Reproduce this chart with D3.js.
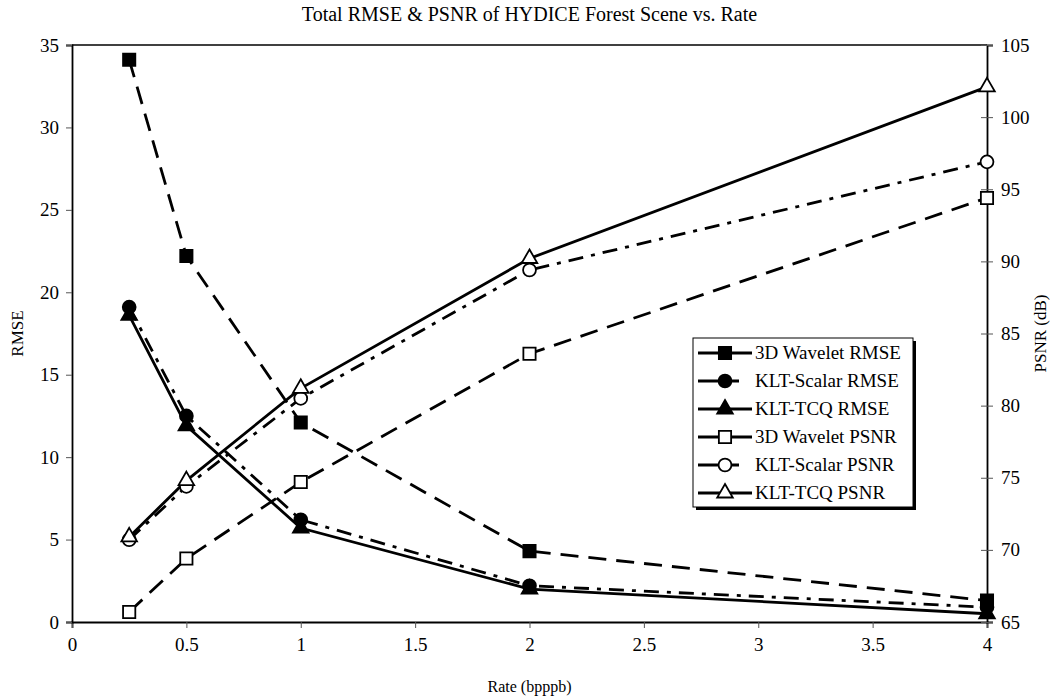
<!DOCTYPE html>
<meta charset="UTF-8">
<style>
    body { margin: 0; background: #fff; }
    text { font-family: "Liberation Serif", "Times New Roman", serif; fill: #000; }
</style>
<body>
<div id="chart"></div>
<script src="https://d3js.org/d3.v7.min.js"></script>
<script>

// data
var rates = [0.25, 0.5, 1, 2, 4];
var wavRmse    = [34.1, 22.2, 12.1, 4.3, 1.3];
var scalarRmse = [19.1, 12.5, 6.2, 2.2, 0.9];
var tcqRmse    = [18.6, 11.9, 5.7, 2.0, 0.5];
var wavPsnr    = [65.7, 69.4, 74.7, 83.6, 94.4];
var scalarPsnr = [70.7, 74.4, 80.5, 89.4, 96.9];
var tcqPsnr    = [70.9, 74.8, 81.2, 90.2, 102.1];

var xTicks = [0, 0.5, 1, 1.5, 2, 2.5, 3, 3.5, 4];
var rmseTicks = [0, 5, 10, 15, 20, 25, 30, 35];
var psnrTicks = [65, 70, 75, 80, 85, 90, 95, 100, 105];

var seriesNames = ["3D Wavelet RMSE", "KLT-Scalar RMSE", "KLT-TCQ RMSE",
                   "3D Wavelet PSNR", "KLT-Scalar PSNR", "KLT-TCQ PSNR"];

// set the dimensions and margins of the graph
var W = 1058, H = 698;
var margin = {top: 45, right: 71, bottom: 76, left: 72};
var width = W - margin.left - margin.right,
    height = H - margin.top - margin.bottom;

var x = d3.scaleLinear().domain([0, 4]).range([0, width]);
var yL = d3.scaleLinear().domain([0, 35]).range([height, 0]);
var yR = d3.scaleLinear().domain([65, 105]).range([height, 0]);

var dashes = { wav: "18,10", scalar: "15,8,4,8", tcq: null };

var series = [
    {name: seriesNames[0], vals: wavRmse,    y: yL, dash: dashes.wav,    shape: "square",   fill: "#000"},
    {name: seriesNames[1], vals: scalarRmse, y: yL, dash: dashes.scalar, shape: "circle",   fill: "#000"},
    {name: seriesNames[2], vals: tcqRmse,    y: yL, dash: dashes.tcq,    shape: "triangle", fill: "#000"},
    {name: seriesNames[3], vals: wavPsnr,    y: yR, dash: dashes.wav,    shape: "square",   fill: "#fff"},
    {name: seriesNames[4], vals: scalarPsnr, y: yR, dash: dashes.scalar, shape: "circle",   fill: "#fff"},
    {name: seriesNames[5], vals: tcqPsnr,    y: yR, dash: dashes.tcq,    shape: "triangle", fill: "#fff"}
];

var svg = d3.select("#chart").append("svg")
    .attr("width", W)
    .attr("height", H);

var g = svg.append("g")
    .attr("transform", "translate(" + margin.left + "," + margin.top + ")");

// title
svg.append("text")
    .attr("x", margin.left + width / 2)
    .attr("y", 21)
    .attr("text-anchor", "middle")
    .style("font-size", "20px")
    .text("Total RMSE & PSNR of HYDICE Forest Scene vs. Rate");

// top frame line
g.append("line")
    .attr("x1", 0).attr("x2", width)
    .attr("y1", 0).attr("y2", 0)
    .attr("stroke", "#000").attr("stroke-width", 1.5);

// axes
var xAxis = g.append("g")
    .attr("transform", "translate(0," + height + ")")
    .call(d3.axisBottom(x).tickValues(xTicks).tickFormat(d3.format("")).tickSize(6).tickPadding(10));

var leftAxis = g.append("g")
    .call(d3.axisLeft(yL).tickValues(rmseTicks).tickSize(6).tickPadding(7));

var rightAxis = g.append("g")
    .attr("transform", "translate(" + width + ",0)")
    .call(d3.axisRight(yR).tickValues(psnrTicks).tickSize(6).tickPadding(8));

rightAxis.selectAll(".tick line").attr("x1", -6);

[xAxis, leftAxis, rightAxis].forEach(function(a) {
    a.select(".domain").attr("stroke", "#000").attr("stroke-width", 1.8);
    a.selectAll(".tick line").attr("stroke", "#555").attr("stroke-width", 1);
    a.selectAll(".tick text")
        .style("font-family", "'Liberation Serif', serif")
        .style("font-size", "19px")
        .attr("fill", "#000");
});

// axis titles
svg.append("text")
    .attr("x", margin.left + width / 2)
    .attr("y", 692)
    .attr("text-anchor", "middle")
    .style("font-size", "16px")
    .text("Rate (bpppb)");

svg.append("text")
    .attr("transform", "translate(23," + (margin.top + height / 2) + ") rotate(-90)")
    .attr("text-anchor", "middle")
    .style("font-size", "17px")
    .text("RMSE");

svg.append("text")
    .attr("transform", "translate(1046," + (margin.top + height / 2) + ") rotate(-90)")
    .attr("text-anchor", "middle")
    .style("font-size", "17px")
    .text("PSNR (dB)");

// marker shapes
function markerPath(shape) {
    if (shape === "square") return d3.symbol().type(d3.symbolSquare).size(150)();
    if (shape === "circle") return d3.symbol().type(d3.symbolCircle).size(130)();
    return d3.symbol().type(d3.symbolTriangle).size(105)();
}

// lines
series.forEach(function(s) {
    var line = d3.line()
        .x(function(d, i) { return x(rates[i]); })
        .y(function(d) { return s.y(d); });
    g.append("path")
        .datum(s.vals)
        .attr("fill", "none")
        .attr("stroke", "#000")
        .attr("stroke-width", 2.8)
        .attr("stroke-dasharray", s.dash)
        .attr("d", line);
});

// markers
series.forEach(function(s) {
    g.selectAll(null)
        .data(s.vals)
    .enter().append("path")
        .attr("transform", function(d, i) {
            return "translate(" + x(rates[i]) + "," + s.y(d) + ")";
        })
        .attr("d", markerPath(s.shape))
        .attr("fill", s.fill)
        .attr("stroke", "#000")
        .attr("stroke-width", 1.8);
});

// legend
var lg = svg.append("g").attr("transform", "translate(693,338)");
var lw = 220, lh = 169;
lg.append("rect")
    .attr("x", 3).attr("y", 3)
    .attr("width", lw).attr("height", lh)
    .attr("fill", "#000");
lg.append("rect")
    .attr("width", lw).attr("height", lh)
    .attr("fill", "#fff")
    .attr("stroke", "#000")
    .attr("stroke-width", 1);

series.forEach(function(s, i) {
    var cy = 15 + i * 28;
    lg.append("line")
        .attr("x1", 5).attr("x2", 59)
        .attr("y1", cy).attr("y2", cy)
        .attr("stroke", "#000")
        .attr("stroke-width", 2.8)
        .attr("stroke-dasharray", s.dash === dashes.scalar ? "41,13,3,100" : null);
    lg.append("path")
        .attr("transform", "translate(32," + cy + ")")
        .attr("d", markerPath(s.shape))
        .attr("fill", s.fill)
        .attr("stroke", "#000")
        .attr("stroke-width", 1.8);
    lg.append("text")
        .attr("x", 62)
        .attr("y", cy + 6)
        .style("font-size", "19px")
        .text(s.name);
});

</script>
</body>
